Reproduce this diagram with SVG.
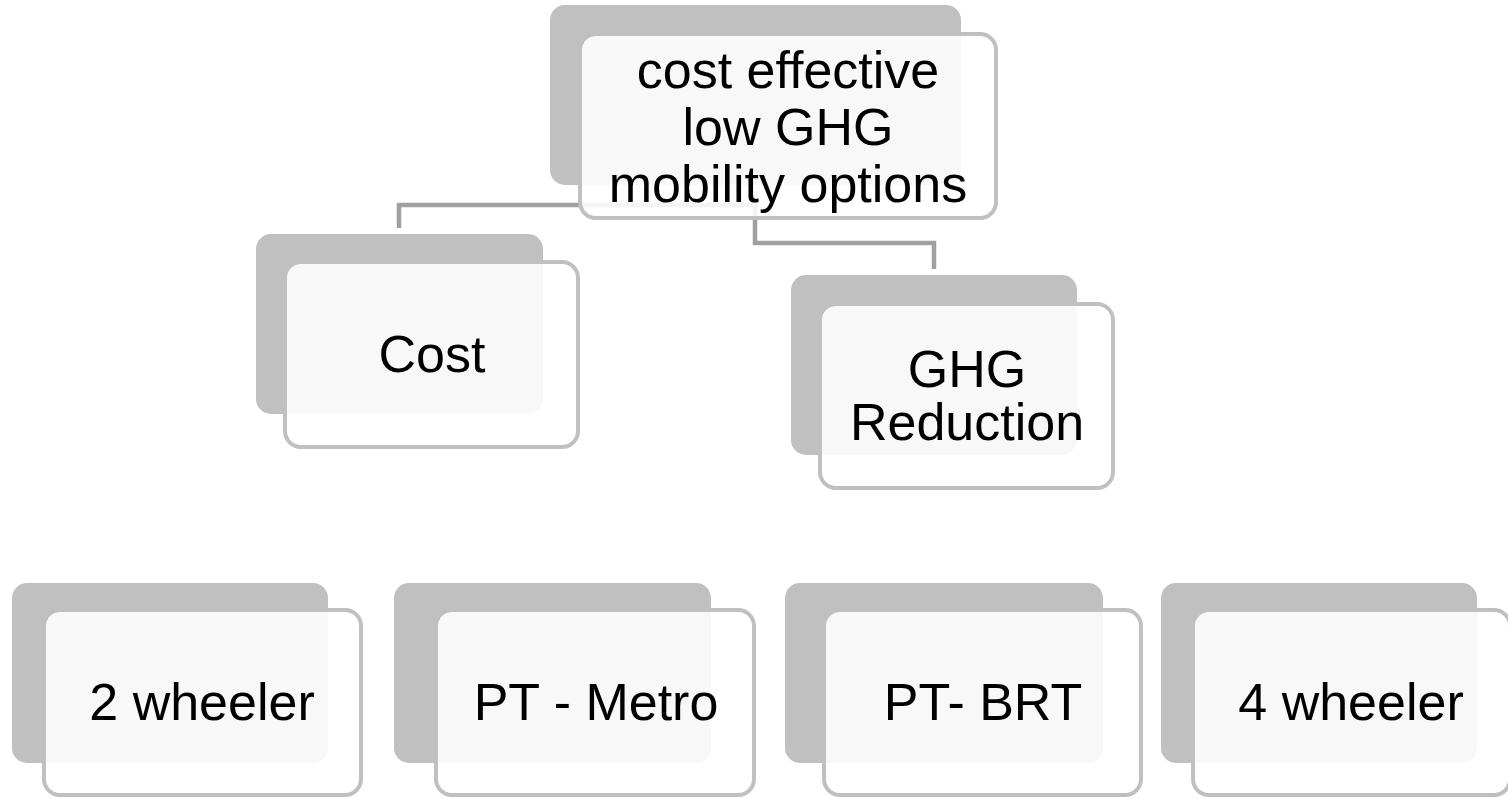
<svg xmlns="http://www.w3.org/2000/svg" width="1508" height="798" viewBox="0 0 1508 798">
<style>
.back{fill:#c0c0c0;}
.front{fill:#ffffff;fill-opacity:0.88;stroke:#c0c0c0;stroke-width:4;}
.lbl{font-family:"Liberation Sans",Arial,sans-serif;font-size:52px;fill:#000000;text-anchor:middle;}
.conn{fill:none;stroke:#a0a0a0;stroke-width:4.5;}
</style>
<rect width="1508" height="798" fill="#ffffff"/>
<g id="connectors">
<path class="conn" d="M755,191 V205 H399 V228"/>
<path class="conn" d="M755,191 V243 H934 V269"/>
</g>
<g id="node-top">
<rect class="back" x="550" y="5" width="411" height="180" rx="15"/>
<rect class="front" x="580" y="34" width="416" height="184" rx="16"/>
<text class="lbl" x="788" y="88">cost effective</text>
<text class="lbl" x="788" y="145">low GHG</text>
<text class="lbl" x="788" y="202">mobility options</text>
</g>
<g id="node-cost">
<rect class="back" x="256" y="234" width="287" height="180" rx="15"/>
<rect class="front" x="285" y="262" width="293" height="185" rx="16"/>
<text class="lbl" x="432" y="372">Cost</text>
</g>
<g id="node-ghg">
<rect class="back" x="791" y="275" width="286" height="180" rx="15"/>
<rect class="front" x="820" y="304" width="293" height="184" rx="16"/>
<text class="lbl" x="967" y="387">GHG</text>
<text class="lbl" x="967" y="440">Reduction</text>
</g>
<g id="node-2wheeler">
<rect class="back" x="12" y="583" width="316" height="180" rx="15"/>
<rect class="front" x="44" y="610" width="317" height="185" rx="16"/>
<text class="lbl" x="202" y="720">2 wheeler</text>
</g>
<g id="node-metro">
<rect class="back" x="394" y="583" width="317" height="180" rx="15"/>
<rect class="front" x="436" y="610" width="318" height="185" rx="16"/>
<text class="lbl" x="596" y="720">PT - Metro</text>
</g>
<g id="node-brt">
<rect class="back" x="785" y="583" width="318" height="180" rx="15"/>
<rect class="front" x="824" y="610" width="317" height="185" rx="16"/>
<text class="lbl" x="983" y="720">PT- BRT</text>
</g>
<g id="node-4wheeler">
<rect class="back" x="1161" y="583" width="316" height="180" rx="15"/>
<rect class="front" x="1193" y="610" width="317" height="185" rx="16"/>
<text class="lbl" x="1351" y="720">4 wheeler</text>
</g>
</svg>
